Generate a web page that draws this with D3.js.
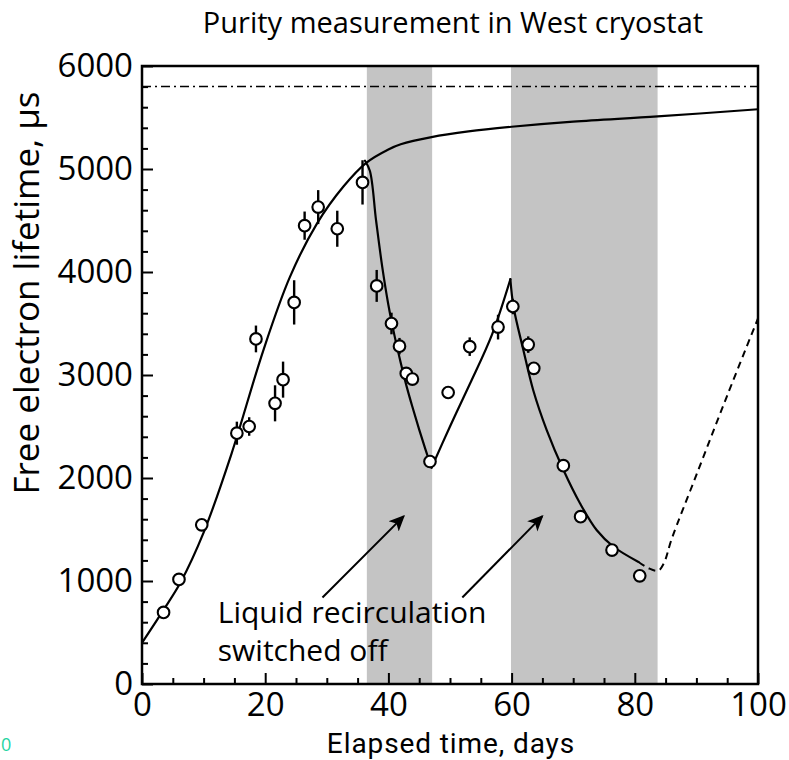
<!DOCTYPE html>
<html>
<head>
<meta charset="utf-8">
<script src="https://cdn.jsdelivr.net/npm/d3@7"></script>
<style>
  html, body { margin: 0; padding: 0; background: #fff; }
  svg { display: block; font-family: "Open Sans", "Noto Sans", sans-serif; }
</style>
</head>
<body>
<svg id="chart" width="789" height="760"></svg>
<script>
// ---- Data ----
const measDays   = [3.5, 6.0, 9.7, 15.4, 17.4, 18.5, 21.6, 22.9, 24.7, 26.4, 28.6, 31.7, 35.8, 38.1, 40.5, 41.8, 42.9, 43.9, 46.75, 49.7, 53.2, 57.8, 60.2, 62.7, 63.6, 68.4, 71.2, 76.3, 80.8];
const measValues = [695, 1015, 1545, 2435, 2500, 3350, 2725, 2955, 3705, 4450, 4630, 4420, 4870, 3865, 3500, 3280, 3015, 2960, 2160, 2830, 3275, 3465, 3665, 3295, 3065, 2120, 1625, 1300, 1050];
const measErrors = [0, 0, 0, 112, 90, 130, 175, 175, 215, 137, 165, 175, 215, 155, 105, 80, 0, 0, 0, 0, 90, 120, 75, 80, 0, 0, 0, 0, 0];

// Purification model, recirculation on
const fitDays   = [0, 3.5, 6.2, 10, 14.5, 19.7, 24, 28.4, 32.7, 36.4, 40, 42, 47, 53, 60, 70, 83.7, 100];
const fitValues = [400, 720, 980, 1470, 2230, 3240, 3950, 4470, 4830, 5060, 5190, 5240, 5310, 5365, 5410, 5460, 5510, 5580];

// Recirculation switched off (first period)
const decay1Days   = [36.2, 37.0, 38.0, 39.0, 40.0, 41.0, 42.0, 43.0, 44.0, 45.0, 46.0, 47.0];
const decay1Values = [5080, 4980, 4500, 4050, 3680, 3380, 3120, 2880, 2670, 2470, 2280, 2100];
// Recirculation on again
const riseDays   = [47.0, 50.0, 53.2, 56.8, 59.8];
const riseValues = [2100, 2500, 2910, 3390, 3930];
// Recirculation switched off (second period)
const decay2Days   = [59.8, 60.3, 61.9, 63.5, 65.7, 68.4, 71.1, 73.8, 76.5, 80.6];
const decay2Values = [3930, 3665, 3245, 2855, 2465, 2080, 1755, 1495, 1335, 1185];

// Extrapolation (dashed)
const extraDays   = [80.6, 82.2, 83.8, 84.7, 86, 90, 95, 100];
const extraValues = [1185, 1125, 1100, 1170, 1410, 2030, 2800, 3550];

// Asymptotic lifetime limit (dash-dot)
const limitValue = 5800;

// Periods with liquid recirculation switched off
const offStart = [36.5, 59.9];
const offEnd   = [47.1, 83.7];

// Annotation
const noteLines  = ["Liquid recirculation", "switched off"];
const noteAnchor = [12.3, 590];
const arrowTailDays = [29.3, 52.0];
const arrowTipDays  = [42.5, 65.0];
const arrowTailVal  = 840;
const arrowTipVal   = 1630;

// Axes
const xTicksMajor = [0, 20, 40, 60, 80, 100];
const yTicksMajor = [0, 1000, 2000, 3000, 4000, 5000, 6000];

const titleText = "Purity measurement in West cryostat";
const xLabel = "Elapsed time, days";
const yLabel = "Free electron lifetime, \u00B5s";

// ---- Layout ----
const svg = d3.select("#chart");
const L = 142, R = 758, T = 66, B = 684;
const x = d3.scaleLinear().domain([0, 100]).range([L, R]);
const y = d3.scaleLinear().domain([0, 6000]).range([B, T]);

// Gray bands
svg.append("g").selectAll("rect")
  .data(offStart.map((s, i) => [s, offEnd[i]]))
  .join("rect")
  .attr("x", d => x(d[0]))
  .attr("width", d => x(d[1]) - x(d[0]))
  .attr("y", T)
  .attr("height", B - T)
  .attr("fill", "#c4c4c4");

// Dash-dot limit
svg.append("line")
  .attr("x1", x(0)).attr("x2", x(100))
  .attr("y1", y(limitValue)).attr("y2", y(limitValue))
  .attr("stroke", "#000").attr("stroke-width", 1.5)
  .attr("stroke-dasharray", "9,4,2,4");

const line = d3.line().x(d => x(d[0])).y(d => y(d[1])).curve(d3.curveCatmullRom.alpha(0.5));
const pairs = (a, b) => a.map((d, i) => [d, b[i]]);

svg.append("path")
  .datum(pairs(fitDays, fitValues))
  .attr("d", line).attr("fill", "none").attr("stroke", "#000").attr("stroke-width", 2.2);

svg.append("g").selectAll("path")
  .data([pairs(decay1Days, decay1Values), pairs(riseDays, riseValues), pairs(decay2Days, decay2Values)])
  .join("path")
  .attr("d", line).attr("fill", "none").attr("stroke", "#000").attr("stroke-width", 2.2)
  .attr("stroke-linecap", "round");

svg.append("path")
  .datum(pairs(extraDays, extraValues))
  .attr("d", line).attr("fill", "none").attr("stroke", "#000").attr("stroke-width", 2)
  .attr("stroke-dasharray", "7,5");

// Error bars
const pts = measDays.map((d, i) => ({ d, v: measValues[i], e: measErrors[i] }));
svg.append("g").selectAll("line")
  .data(pts.filter(p => p.e > 0))
  .join("line")
  .attr("x1", p => x(p.d)).attr("x2", p => x(p.d))
  .attr("y1", p => y(p.v - p.e)).attr("y2", p => y(p.v + p.e))
  .attr("stroke", "#000").attr("stroke-width", 2.4);

// Points
svg.append("g").selectAll("circle")
  .data(pts)
  .join("circle")
  .attr("cx", p => x(p.d)).attr("cy", p => y(p.v))
  .attr("r", 5.8)
  .attr("fill", "#fff").attr("stroke", "#000").attr("stroke-width", 2.1);

// Axes with inward ticks
const fontTick = 33;
const yMinor = d3.range(0, 6001, 200).filter(v => v % 1000 !== 0);
const xMinor = d3.range(0, 101, 5).filter(v => v % 20 !== 0);

const gyMinor = svg.append("g").attr("transform", `translate(${L},0)`)
  .call(d3.axisLeft(y).tickValues(yMinor).tickSize(-6).tickFormat(""));
const gy = svg.append("g").attr("transform", `translate(${L},0)`)
  .call(d3.axisLeft(y).tickValues(yTicksMajor).tickSize(-11).tickPadding(9).tickFormat(d3.format("d")));
const gxMinor = svg.append("g").attr("transform", `translate(0,${B})`)
  .call(d3.axisBottom(x).tickValues(xMinor).tickSize(-6).tickFormat(""));
const gx = svg.append("g").attr("transform", `translate(0,${B})`)
  .call(d3.axisBottom(x).tickValues(xTicksMajor).tickSize(-11).tickPadding(9).tickFormat(d3.format("d")));

[gy, gx, gyMinor, gxMinor].forEach(g => {
  g.select(".domain").remove();
  g.selectAll(".tick line").attr("stroke", "#000").attr("stroke-width", 2);
  g.selectAll(".tick text").attr("font-family", "Open Sans, sans-serif")
    .attr("font-size", fontTick).attr("fill", "#000");
});

// Frame
svg.append("rect")
  .attr("x", L).attr("y", T).attr("width", R - L).attr("height", B - T)
  .attr("fill", "none").attr("stroke", "#000").attr("stroke-width", 2.5);

// Title and labels
svg.append("text").attr("x", 453).attr("y", 33).attr("text-anchor", "middle")
  .attr("font-size", 29).attr("fill", "#000").text(titleText);
svg.append("text").attr("x", 451).attr("y", 753).attr("text-anchor", "middle")
  .attr("font-family", "Roboto, 'Open Sans', sans-serif")
  .attr("font-size", 28).attr("letter-spacing", 0.9).attr("fill", "#000").text(xLabel);
svg.append("text").attr("transform", "translate(39,293) rotate(-90)")
  .attr("text-anchor", "middle").attr("font-size", 35).attr("fill", "#000").text(yLabel);

// Annotation text
svg.append("g").selectAll("text")
  .data(noteLines)
  .join("text")
  .attr("x", x(noteAnchor[0]))
  .attr("y", (d, i) => y(noteAnchor[1]) + i * 38)
  .attr("font-size", 30).attr("fill", "#000")
  .text(d => d);

// Arrows
const defs = svg.append("defs");
defs.append("marker").attr("id", "ah").attr("viewBox", "0 0 10 10")
  .attr("refX", 9).attr("refY", 5).attr("markerWidth", 16).attr("markerHeight", 16)
  .attr("markerUnits", "userSpaceOnUse").attr("orient", "auto")
  .append("path").attr("d", "M0,0.5 L10,5 L0,9.5 L2.5,5 Z").attr("fill", "#000");

svg.append("g").selectAll("line")
  .data(arrowTailDays.map((d, i) => [d, arrowTipDays[i]]))
  .join("line")
  .attr("x1", d => x(d[0])).attr("y1", y(arrowTailVal))
  .attr("x2", d => x(d[1])).attr("y2", y(arrowTipVal))
  .attr("stroke", "#000").attr("stroke-width", 2)
  .attr("marker-end", "url(#ah)");

// Small teal mark at the bottom-left edge (a stray label in the reference)
svg.append("text").attr("x", 1).attr("y", 751).attr("text-anchor", "start")
  .attr("font-size", 18).attr("fill", "#1fd4a2").text("0");
</script>
</body>
</html>
